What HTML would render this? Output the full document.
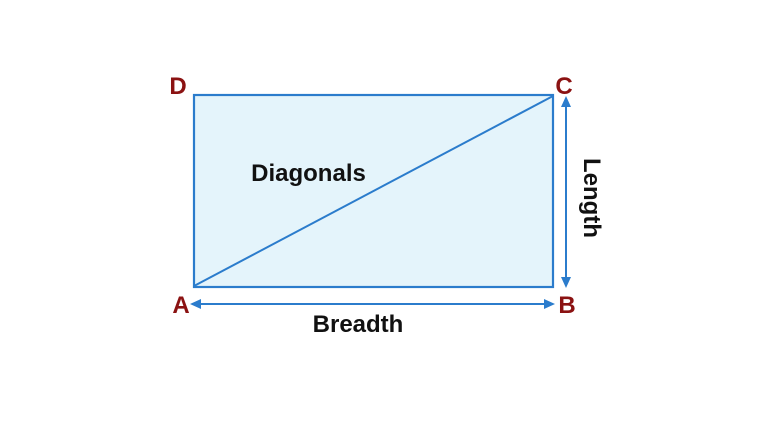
<!DOCTYPE html>
<html><head><style>
html,body{margin:0;padding:0;background:#fff;}
svg{display:block;}
text{font-family:"Liberation Sans",sans-serif;font-weight:bold;}
</style></head><body>
<svg width="768" height="432" viewBox="0 0 768 432" xmlns="http://www.w3.org/2000/svg">
<rect x="194" y="95" width="359" height="192" fill="#e4f4fb" stroke="#2b7ccc" stroke-width="2.2"/>
<line x1="194" y1="286" x2="553" y2="96" stroke="#2b7ccc" stroke-width="2"/>
<line x1="566" y1="104" x2="566" y2="280" stroke="#2b7ccc" stroke-width="2"/>
<polygon points="566,96 561,107 571,107" fill="#2b7ccc"/>
<polygon points="566,288 561,277 571,277" fill="#2b7ccc"/>
<line x1="198" y1="304" x2="547" y2="304" stroke="#2b7ccc" stroke-width="2"/>
<polygon points="190,304 201,299 201,309" fill="#2b7ccc"/>
<polygon points="555,304 544,299 544,309" fill="#2b7ccc"/>
<text x="178" y="94" font-size="24" fill="#8b1212" text-anchor="middle">D</text>
<text x="564" y="94" font-size="24" fill="#8b1212" text-anchor="middle">C</text>
<text x="181" y="313" font-size="24" fill="#8b1212" text-anchor="middle">A</text>
<text x="567" y="313" font-size="24" fill="#8b1212" text-anchor="middle">B</text>
<text x="308.5" y="181" font-size="24" fill="#111" text-anchor="middle">Diagonals</text>
<text x="358" y="332" font-size="24" fill="#111" text-anchor="middle">Breadth</text>
<text x="0" y="0" font-size="24" fill="#111" text-anchor="middle" transform="translate(584,198) rotate(90)">Length</text>
</svg>
</body></html>
